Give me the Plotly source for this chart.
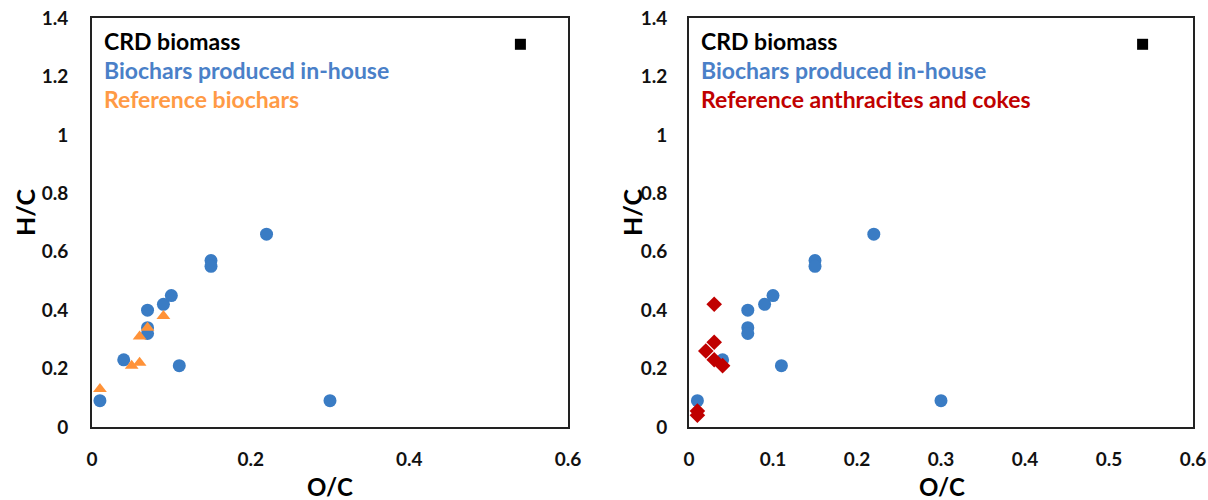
import plotly.graph_objects as go

# ---- data ----
crd_oc = [0.54]
crd_hc = [1.31]

inhouse_oc = [0.01, 0.04, 0.07, 0.07, 0.07, 0.09, 0.10, 0.15, 0.15, 0.22, 0.11, 0.30]
inhouse_hc = [0.09, 0.23, 0.40, 0.34, 0.32, 0.42, 0.45, 0.57, 0.55, 0.66, 0.21, 0.09]

refbio_oc = [0.01, 0.05, 0.06, 0.06, 0.07, 0.09]
refbio_hc = [0.13, 0.21, 0.22, 0.31, 0.34, 0.38]

anth_oc = [0.03, 0.03, 0.02, 0.03, 0.04, 0.01, 0.01]
anth_hc = [0.42, 0.29, 0.26, 0.23, 0.21, 0.055, 0.04]

y_ticks = [0, 0.2, 0.4, 0.6, 0.8, 1.0, 1.2, 1.4]
x_ticks_left = [0, 0.2, 0.4, 0.6]
x_ticks_right = [0, 0.1, 0.2, 0.3, 0.4, 0.5, 0.6]

BLUE = "#3A7CC4"
BLUE_TXT = "#4A80C8"
ORANGE = "#FF9238"
ORANGE_TXT = "#FF9A45"
RED = "#C00000"
FONT = "Lato"

fig = go.Figure()

def add_panel(xa, ya, ref_oc, ref_hc, ref_symbol, ref_color):
    fig.add_trace(go.Scatter(x=crd_oc, y=crd_hc, mode="markers", xaxis=xa, yaxis=ya,
                             marker=dict(symbol="square", size=11, color="black"), showlegend=False))
    fig.add_trace(go.Scatter(x=inhouse_oc, y=inhouse_hc, mode="markers", xaxis=xa, yaxis=ya,
                             marker=dict(symbol="circle", size=13, color=BLUE), showlegend=False))
    fig.add_trace(go.Scatter(x=ref_oc, y=ref_hc, mode="markers", xaxis=xa, yaxis=ya,
                             marker=dict(symbol=ref_symbol, size=12, color=ref_color), showlegend=False))

add_panel("x", "y", refbio_oc, refbio_hc, "triangle-up", ORANGE)
add_panel("x2", "y2", anth_oc, anth_hc, "diamond", RED)

tickfont = dict(family=FONT, size=19, color="#111111", weight="bold")
common_axis = dict(showgrid=False, zeroline=False, showline=True, linecolor="#222222",
                   linewidth=2, mirror=True, ticks="", tickfont=tickfont, automargin=False)

y_dom = [0.146, 0.964]
fig.update_layout(
    width=1208, height=500,
    margin=dict(l=0, r=0, t=0, b=0),
    paper_bgcolor="white", plot_bgcolor="white",
    xaxis=dict(domain=[92/1208, 568/1208], range=[0, 0.6], tickvals=x_ticks_left,
               ticklabelstandoff=14, anchor="y", **common_axis),
    yaxis=dict(domain=y_dom, range=[0, 1.4], tickvals=y_ticks,
               ticktext=[f"{v:g}" for v in y_ticks], ticklabelstandoff=18, anchor="x", **common_axis),
    xaxis2=dict(domain=[689/1208, 1193/1208], range=[0, 0.6], tickvals=x_ticks_right,
                ticklabelstandoff=14, anchor="y2", **common_axis),
    yaxis2=dict(domain=y_dom, range=[0, 1.4], tickvals=y_ticks,
                ticktext=[f"{v:g}" for v in y_ticks], ticklabelstandoff=16, anchor="x2", **common_axis),
)

def txt(x, y, s, color, size=23, angle=0, xanchor="left"):
    fig.add_annotation(x=x/1208, y=1 - y/500, xref="paper", yref="paper", text=s, showarrow=False,
                       xanchor=xanchor, yanchor="middle", textangle=angle, borderpad=0,
                       font=dict(family=FONT, size=size, color=color, weight="bold"))

# legend-like text
txt(103, 41, "CRD biomass", "black")
txt(103, 70, "Biochars produced in-house", BLUE_TXT)
txt(103, 99, "Reference biochars", ORANGE_TXT)
txt(700, 41, "CRD biomass", "black")
txt(700, 70, "Biochars produced in-house", BLUE_TXT)
txt(700, 99, "Reference anthracites and cokes", RED)

# axis titles
txt(330, 486, "O/C", "black", size=24, xanchor="center")
txt(942, 486, "O/C", "black", size=24, xanchor="center")
txt(25, 212, "H/C", "black", size=25, angle=-90, xanchor="center")
txt(632, 212, "H/C", "black", size=25, angle=-90, xanchor="center")

fig.write_html("out.html")
